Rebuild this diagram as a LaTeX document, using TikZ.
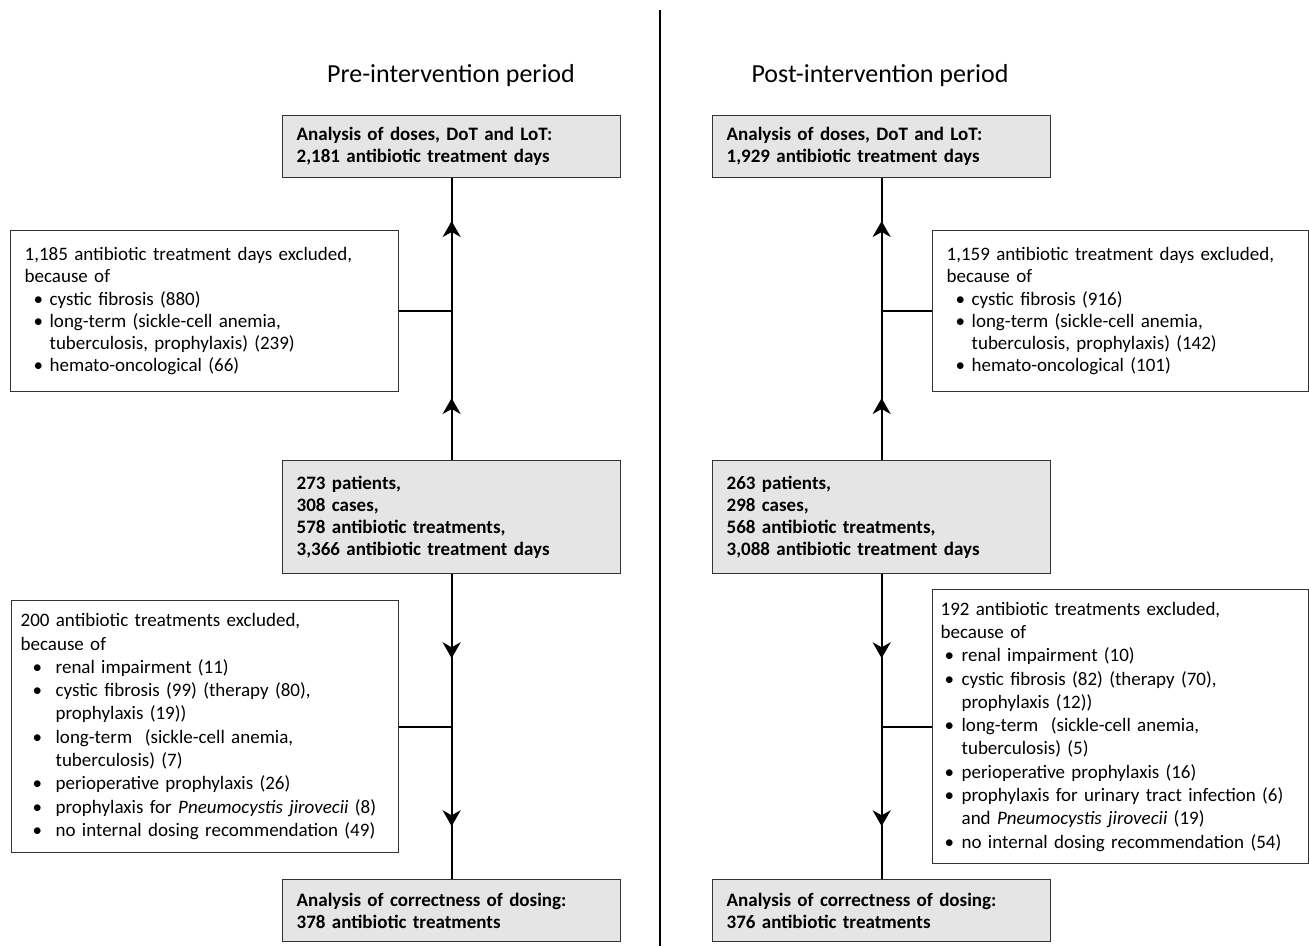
\documentclass[tikz,border=0pt]{standalone}
\usepackage{fontspec}
\setmainfont{Carlito}
\usetikzlibrary{arrows.meta,decorations.markings}
\newcommand{\BI}[2]{\makebox[#2][l]{\hspace*{#1}\textbullet}}
\tikzset{
  barb/.tip={Stealth[length=16pt,width=18pt,inset=5pt]},
  boxline/.style={draw=black!80, line width=1.3pt},
  graybox/.style={boxline, fill=black!10, anchor=north west, align=left,
    inner xsep=14pt, inner ysep=0pt, text width=310pt, minimum width=338pt,
    font=\bfseries\fontsize{19}{22}\selectfont},
  exbox/.style={boxline, fill=white, anchor=north west, align=left,
    inner ysep=0pt, font=\fontsize{19}{23.3}\selectfont},
  exboxtop/.style={exbox, font=\fontsize{19}{22.2}\selectfont},
  title/.style={font=\fontsize{26}{30}\selectfont},
  conn/.style={line width=2pt, black},
  uparrows/.style={conn, postaction=decorate, decoration={markings,
    mark=at position 62pt with {\arrow{barb}},
    mark=at position 239pt with {\arrow{barb}}}},
  downarrows/.style={conn, postaction=decorate, decoration={markings,
    mark=at position 84pt with {\arrow{barb}},
    mark=at position 252pt with {\arrow{barb}}}},
}
\begin{document}
\begin{tikzpicture}[x=1pt,y=-1pt]
\useasboundingbox (0,0) rectangle (1309,946);
\fill[white] (0,0) rectangle (1309,946);

% divider
\draw[line width=2.5pt] (660,10) -- (660,946);

% titles
\node[title] (tL) at (451,76) {Pre-intervention period};
\node[title] (tR) at (880,76) {Post-intervention period};

% ---------- left column ----------
\node[graybox, minimum height=62pt] (topL) at (282,115)
  {Analysis of doses, DoT and LoT:\\2,181 antibiotic treatment days};
\node[graybox, minimum height=113pt] (midL) at (282,460)
  {273 patients,\\308 cases,\\578 antibiotic treatments,\\3,366 antibiotic treatment days};
\node[graybox, minimum height=62pt] (botL) at (282,879)
  {Analysis of correctness of dosing:\\378 antibiotic treatments};

\node[exboxtop, inner xsep=14pt, text width=360pt, minimum height=161pt] (exUL) at (10,230)
  {1,185 antibiotic treatment days excluded,\\
   because of\\
   \BI{9pt}{25pt}cystic fibrosis (880)\\
   \BI{9pt}{25pt}long-term (sickle-cell anemia,\\
   \hspace*{25pt}tuberculosis, prophylaxis) (239)\\
   \BI{9pt}{25pt}hemato-oncological (66)};

\node[exbox, inner xsep=9pt, text width=369pt, minimum height=252pt] (exLL) at (11,600)
  {200 antibiotic treatments excluded,\\
   because of\\
   \BI{12pt}{35pt}renal impairment (11)\\
   \BI{12pt}{35pt}cystic fibrosis (99) (therapy (80),\\
   \hspace*{35pt}prophylaxis (19))\\
   \BI{12pt}{35pt}long-term\ \ (sickle-cell anemia,\\
   \hspace*{35pt}tuberculosis) (7)\\
   \BI{12pt}{35pt}perioperative prophylaxis (26)\\
   \BI{12pt}{35pt}prophylaxis for \emph{Pneumocystis jirovecii} (8)\\
   \BI{12pt}{35pt}no internal dosing recommendation (49)};

\draw[uparrows] (midL.north) -- (topL.south);
\draw[downarrows] (midL.south) -- (botL.north);
\draw[conn] (exUL.east) -- (exUL.east -| midL.north);
\draw[conn] (exLL.east) -- (exLL.east -| midL.south);

% ---------- right column ----------
\node[graybox, minimum height=62pt] (topR) at (712,115)
  {Analysis of doses, DoT and LoT:\\1,929 antibiotic treatment days};
\node[graybox, minimum height=113pt] (midR) at (712,460)
  {263 patients,\\298 cases,\\568 antibiotic treatments,\\3,088 antibiotic treatment days};
\node[graybox, minimum height=62pt] (botR) at (712,879)
  {Analysis of correctness of dosing:\\376 antibiotic treatments};

\node[exboxtop, inner xsep=14pt, text width=348pt, minimum height=161pt] (exUR) at (932,230)
  {1,159 antibiotic treatment days excluded,\\
   because of\\
   \BI{9pt}{25pt}cystic fibrosis (916)\\
   \BI{9pt}{25pt}long-term (sickle-cell anemia,\\
   \hspace*{25pt}tuberculosis, prophylaxis) (142)\\
   \BI{9pt}{25pt}hemato-oncological (101)};

\node[exbox, inner xsep=8pt, text width=360pt, minimum height=274pt] (exLR) at (932,589)
  {192 antibiotic treatments excluded,\\
   because of\\
   \BI{4pt}{21pt}renal impairment (10)\\
   \BI{4pt}{21pt}cystic fibrosis (82) (therapy (70),\\
   \hspace*{21pt}prophylaxis (12))\\
   \BI{4pt}{21pt}long-term\ \ (sickle-cell anemia,\\
   \hspace*{21pt}tuberculosis) (5)\\
   \BI{4pt}{21pt}perioperative prophylaxis (16)\\
   \BI{4pt}{21pt}prophylaxis for urinary tract infection (6)\\
   \hspace*{21pt}and \emph{Pneumocystis jirovecii} (19)\\
   \BI{4pt}{21pt}no internal dosing recommendation (54)};

\draw[uparrows] (midR.north) -- (topR.south);
\draw[downarrows] (midR.south) -- (botR.north);
\draw[conn] (exUR.west) -- (exUR.west -| midR.north);
\draw[conn] (exLR.west) -- (exLR.west -| midR.south);
\end{tikzpicture}
\end{document}
